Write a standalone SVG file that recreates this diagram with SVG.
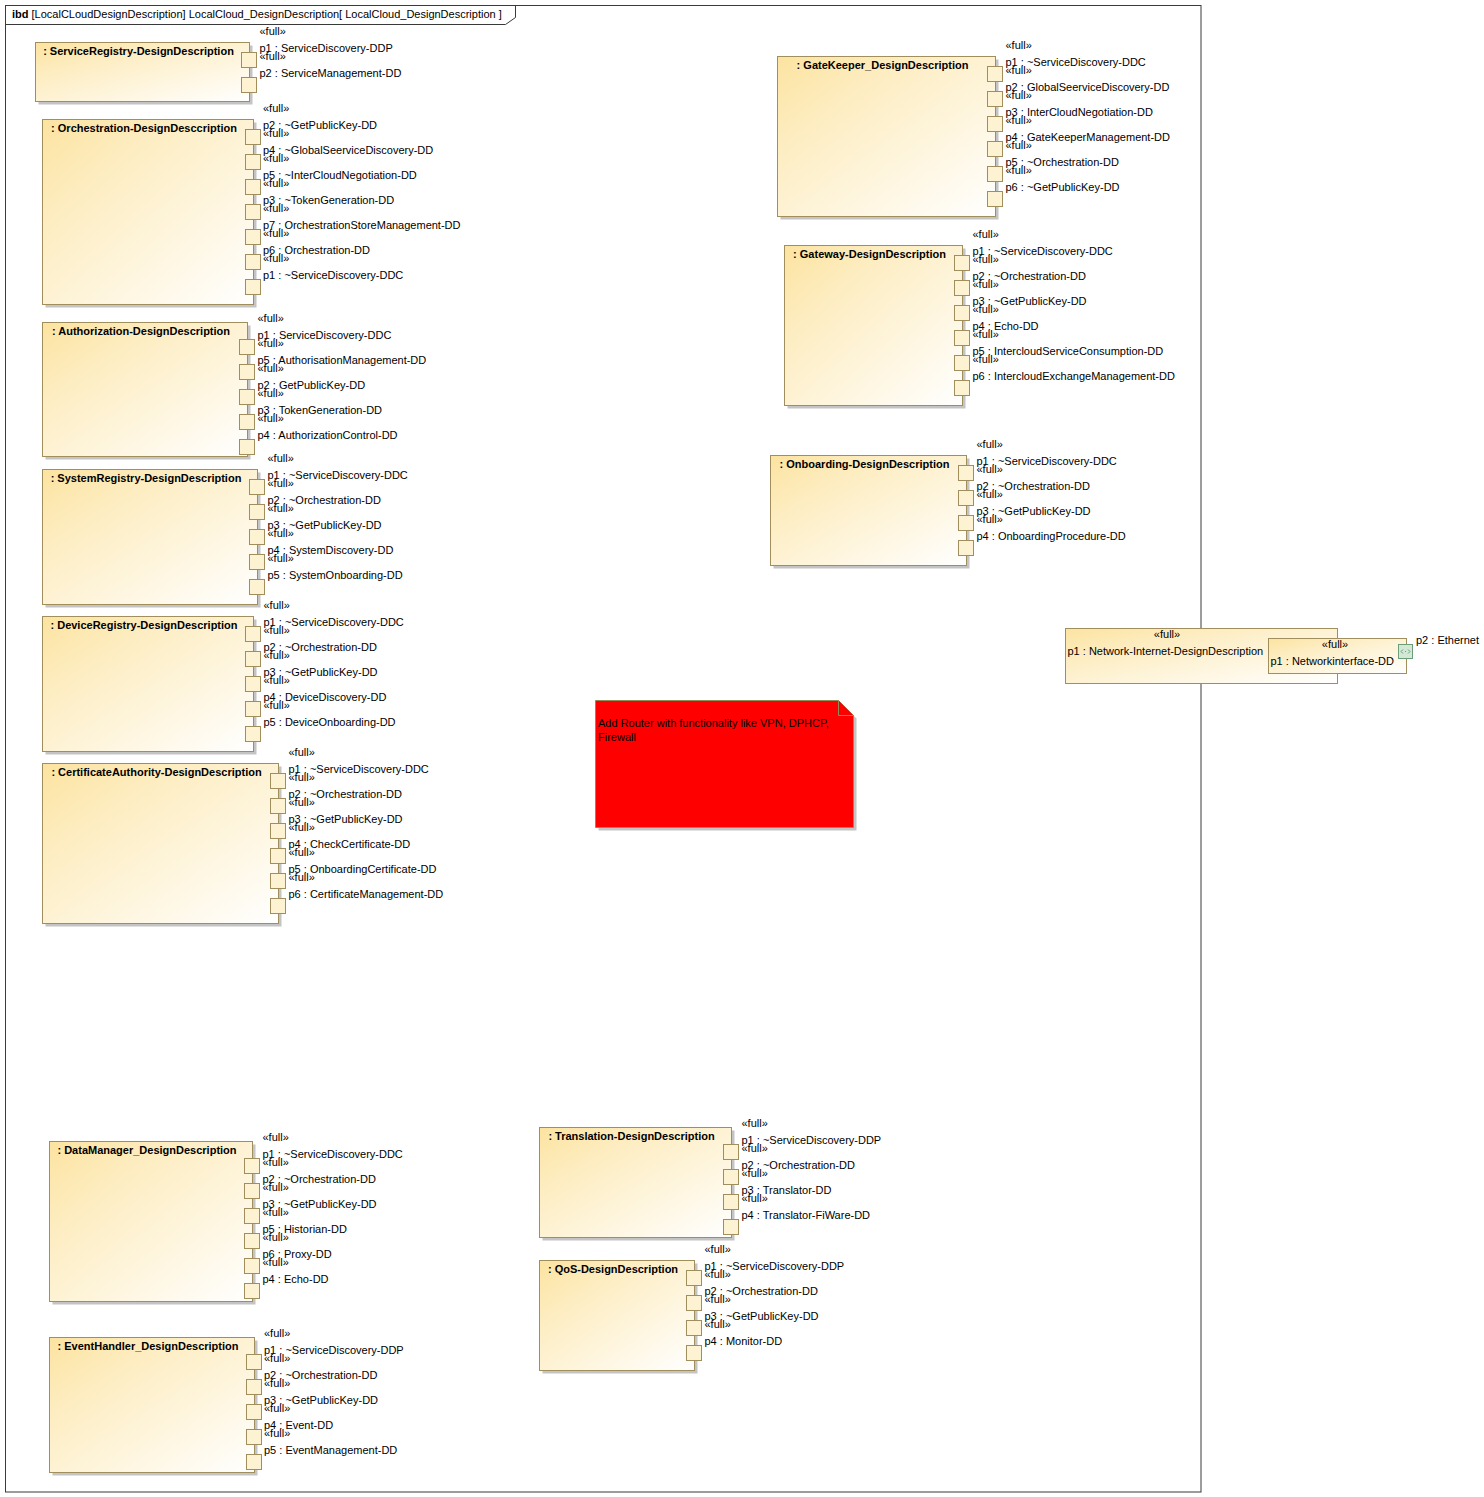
<svg xmlns="http://www.w3.org/2000/svg" width="1484" height="1497" viewBox="0 0 1484 1497">
  <defs>
    <linearGradient id="partFill" x1="0" y1="0" x2="1" y2="1">
      <stop offset="0" stop-color="#FCE3A0"/>
      <stop offset="0.3" stop-color="#FDEDC2"/>
      <stop offset="1" stop-color="#FFFFFF"/>
    </linearGradient>
    <style>
      .frame { fill: none; stroke: #3A3A3A; stroke-width: 1; }
      .shadow { fill: #C4C4C4; }
      .part { fill: url(#partFill); stroke: #A08E5C; stroke-width: 1; }
      .port { fill: #FDF3D2; stroke: #A08E5C; stroke-width: 1; }
      .gport { fill: #D3E8D6; stroke: #6B9E76; stroke-width: 1; }
      .note { fill: #FF0000; stroke: #8E8E5A; stroke-width: 1; }
      text { font-family: "Liberation Sans", Arial, Helvetica, sans-serif; font-size: 11px; fill: #000; }
      .title { font-weight: bold; text-anchor: middle; }
      .hdr { font-weight: bold; }
      .mid { text-anchor: middle; }
    </style>
  </defs>

  <!-- diagram frame -->
  <g id="frame">
    <rect class="frame" x="5.5" y="5.5" width="1195.5" height="1486.5"/>
    <path class="frame" d="M5.5,24.5 H505.5 L515.5,17.5 V5.5"/>
    <text x="12" y="18"><tspan class="hdr">ibd</tspan> [LocalCLoudDesignDescription] LocalCloud_DesignDescription[ LocalCloud_DesignDescription ]</text>
  </g>

  <!-- connectors: none drawn in this diagram -->
  <g id="connectors"/>

  <!-- ServiceRegistry -->
  <g id="serviceRegistry">
    <rect class="shadow" x="38.5" y="45.5" width="214" height="59"/>
    <rect class="part" x="35.5" y="42.5" width="214" height="59"/>
    <text class="title" x="138.5" y="54.5">: ServiceRegistry-DesignDescription</text>
    <rect class="port" x="241.5" y="52.5" width="15" height="15"/>
    <rect class="port" x="241.5" y="77.5" width="15" height="15"/>
    <text x="259.5" y="34.5">«full»</text>
    <text x="259.5" y="51.5">p1 : ServiceDiscovery-DDP</text>
    <text x="259.5" y="59.5">«full»</text>
    <text x="259.5" y="76.5">p2 : ServiceManagement-DD</text>
  </g>

  <!-- Orchestration -->
  <g id="orchestration">
    <rect class="shadow" x="45.5" y="122.5" width="211" height="185"/>
    <rect class="part" x="42.5" y="119.5" width="211" height="185"/>
    <text class="title" x="144" y="131.5">: Orchestration-DesignDesccription</text>
    <rect class="port" x="245.5" y="129.5" width="15" height="15"/>
    <rect class="port" x="245.5" y="154.5" width="15" height="15"/>
    <rect class="port" x="245.5" y="179.5" width="15" height="15"/>
    <rect class="port" x="245.5" y="204.5" width="15" height="15"/>
    <rect class="port" x="245.5" y="229.5" width="15" height="15"/>
    <rect class="port" x="245.5" y="254.5" width="15" height="15"/>
    <rect class="port" x="245.5" y="279.5" width="15" height="15"/>
    <text x="263" y="111.5">«full»</text>
    <text x="263" y="128.5">p2 : ~GetPublicKey-DD</text>
    <text x="263" y="136.5">«full»</text>
    <text x="263" y="153.5">p4 : ~GlobalSeerviceDiscovery-DD</text>
    <text x="263" y="161.5">«full»</text>
    <text x="263" y="178.5">p5 : ~InterCloudNegotiation-DD</text>
    <text x="263" y="186.5">«full»</text>
    <text x="263" y="203.5">p3 : ~TokenGeneration-DD</text>
    <text x="263" y="211.5">«full»</text>
    <text x="263" y="228.5">p7 : OrchestrationStoreManagement-DD</text>
    <text x="263" y="236.5">«full»</text>
    <text x="263" y="253.5">p6 : Orchestration-DD</text>
    <text x="263" y="261.5">«full»</text>
    <text x="263" y="278.5">p1 : ~ServiceDiscovery-DDC</text>
  </g>

  <!-- Authorization -->
  <g id="authorization">
    <rect class="shadow" x="45.5" y="325.5" width="205" height="134"/>
    <rect class="part" x="42.5" y="322.5" width="205" height="134"/>
    <text class="title" x="141" y="334.5">: Authorization-DesignDescription</text>
    <rect class="port" x="239.5" y="339.5" width="15" height="15"/>
    <rect class="port" x="239.5" y="364.5" width="15" height="15"/>
    <rect class="port" x="239.5" y="389.5" width="15" height="15"/>
    <rect class="port" x="239.5" y="414.5" width="15" height="15"/>
    <rect class="port" x="239.5" y="439.5" width="15" height="15"/>
    <text x="257.5" y="321.5">«full»</text>
    <text x="257.5" y="338.5">p1 : ServiceDiscovery-DDC</text>
    <text x="257.5" y="346.5">«full»</text>
    <text x="257.5" y="363.5">p5 : AuthorisationManagement-DD</text>
    <text x="257.5" y="371.5">«full»</text>
    <text x="257.5" y="388.5">p2 : GetPublicKey-DD</text>
    <text x="257.5" y="396.5">«full»</text>
    <text x="257.5" y="413.5">p3 : TokenGeneration-DD</text>
    <text x="257.5" y="421.5">«full»</text>
    <text x="257.5" y="438.5">p4 : AuthorizationControl-DD</text>
  </g>

  <!-- SystemRegistry -->
  <g id="systemRegistry">
    <rect class="shadow" x="45.5" y="472.5" width="215" height="135"/>
    <rect class="part" x="42.5" y="469.5" width="215" height="135"/>
    <text class="title" x="146" y="481.5">: SystemRegistry-DesignDescription</text>
    <rect class="port" x="249.5" y="479.5" width="15" height="15"/>
    <rect class="port" x="249.5" y="504.5" width="15" height="15"/>
    <rect class="port" x="249.5" y="529.5" width="15" height="15"/>
    <rect class="port" x="249.5" y="554.5" width="15" height="15"/>
    <rect class="port" x="249.5" y="579.5" width="15" height="15"/>
    <text x="267.5" y="461.5">«full»</text>
    <text x="267.5" y="478.5">p1 : ~ServiceDiscovery-DDC</text>
    <text x="267.5" y="486.5">«full»</text>
    <text x="267.5" y="503.5">p2 : ~Orchestration-DD</text>
    <text x="267.5" y="511.5">«full»</text>
    <text x="267.5" y="528.5">p3 : ~GetPublicKey-DD</text>
    <text x="267.5" y="536.5">«full»</text>
    <text x="267.5" y="553.5">p4 : SystemDiscovery-DD</text>
    <text x="267.5" y="561.5">«full»</text>
    <text x="267.5" y="578.5">p5 : SystemOnboarding-DD</text>
  </g>

  <!-- DeviceRegistry -->
  <g id="deviceRegistry">
    <rect class="shadow" x="45.5" y="619.5" width="211" height="135"/>
    <rect class="part" x="42.5" y="616.5" width="211" height="135"/>
    <text class="title" x="144" y="628.5">: DeviceRegistry-DesignDescription</text>
    <rect class="port" x="245.5" y="626.5" width="15" height="15"/>
    <rect class="port" x="245.5" y="651.5" width="15" height="15"/>
    <rect class="port" x="245.5" y="676.5" width="15" height="15"/>
    <rect class="port" x="245.5" y="701.5" width="15" height="15"/>
    <rect class="port" x="245.5" y="726.5" width="15" height="15"/>
    <text x="263.5" y="608.5">«full»</text>
    <text x="263.5" y="625.5">p1 : ~ServiceDiscovery-DDC</text>
    <text x="263.5" y="633.5">«full»</text>
    <text x="263.5" y="650.5">p2 : ~Orchestration-DD</text>
    <text x="263.5" y="658.5">«full»</text>
    <text x="263.5" y="675.5">p3 : ~GetPublicKey-DD</text>
    <text x="263.5" y="683.5">«full»</text>
    <text x="263.5" y="700.5">p4 : DeviceDiscovery-DD</text>
    <text x="263.5" y="708.5">«full»</text>
    <text x="263.5" y="725.5">p5 : DeviceOnboarding-DD</text>
  </g>

  <!-- CertificateAuthority -->
  <g id="certificateAuthority">
    <rect class="shadow" x="45.5" y="766.5" width="236" height="160"/>
    <rect class="part" x="42.5" y="763.5" width="236" height="160"/>
    <text class="title" x="156.5" y="775.5">: CertificateAuthority-DesignDescription</text>
    <rect class="port" x="270.5" y="773.5" width="15" height="15"/>
    <rect class="port" x="270.5" y="798.5" width="15" height="15"/>
    <rect class="port" x="270.5" y="823.5" width="15" height="15"/>
    <rect class="port" x="270.5" y="848.5" width="15" height="15"/>
    <rect class="port" x="270.5" y="873.5" width="15" height="15"/>
    <rect class="port" x="270.5" y="898.5" width="15" height="15"/>
    <text x="288.5" y="755.5">«full»</text>
    <text x="288.5" y="772.5">p1 : ~ServiceDiscovery-DDC</text>
    <text x="288.5" y="780.5">«full»</text>
    <text x="288.5" y="797.5">p2 : ~Orchestration-DD</text>
    <text x="288.5" y="805.5">«full»</text>
    <text x="288.5" y="822.5">p3 : ~GetPublicKey-DD</text>
    <text x="288.5" y="830.5">«full»</text>
    <text x="288.5" y="847.5">p4 : CheckCertificate-DD</text>
    <text x="288.5" y="855.5">«full»</text>
    <text x="288.5" y="872.5">p5 : OnboardingCertificate-DD</text>
    <text x="288.5" y="880.5">«full»</text>
    <text x="288.5" y="897.5">p6 : CertificateManagement-DD</text>
  </g>

  <!-- DataManager -->
  <g id="dataManager">
    <rect class="shadow" x="52.5" y="1144.5" width="203" height="160"/>
    <rect class="part" x="49.5" y="1141.5" width="203" height="160"/>
    <text class="title" x="147" y="1153.5">: DataManager_DesignDescription</text>
    <rect class="port" x="244.5" y="1158.5" width="15" height="15"/>
    <rect class="port" x="244.5" y="1183.5" width="15" height="15"/>
    <rect class="port" x="244.5" y="1208.5" width="15" height="15"/>
    <rect class="port" x="244.5" y="1233.5" width="15" height="15"/>
    <rect class="port" x="244.5" y="1258.5" width="15" height="15"/>
    <rect class="port" x="244.5" y="1283.5" width="15" height="15"/>
    <text x="262.5" y="1140.5">«full»</text>
    <text x="262.5" y="1157.5">p1 : ~ServiceDiscovery-DDC</text>
    <text x="262.5" y="1165.5">«full»</text>
    <text x="262.5" y="1182.5">p2 : ~Orchestration-DD</text>
    <text x="262.5" y="1190.5">«full»</text>
    <text x="262.5" y="1207.5">p3 : ~GetPublicKey-DD</text>
    <text x="262.5" y="1215.5">«full»</text>
    <text x="262.5" y="1232.5">p5 : Historian-DD</text>
    <text x="262.5" y="1240.5">«full»</text>
    <text x="262.5" y="1257.5">p6 : Proxy-DD</text>
    <text x="262.5" y="1265.5">«full»</text>
    <text x="262.5" y="1282.5">p4 : Echo-DD</text>
  </g>

  <!-- EventHandler -->
  <g id="eventHandler">
    <rect class="shadow" x="52.5" y="1340.5" width="205" height="135"/>
    <rect class="part" x="49.5" y="1337.5" width="205" height="135"/>
    <text class="title" x="148" y="1349.5">: EventHandler_DesignDescription</text>
    <rect class="port" x="246.5" y="1354.5" width="15" height="15"/>
    <rect class="port" x="246.5" y="1379.5" width="15" height="15"/>
    <rect class="port" x="246.5" y="1404.5" width="15" height="15"/>
    <rect class="port" x="246.5" y="1429.5" width="15" height="15"/>
    <rect class="port" x="246.5" y="1454.5" width="15" height="15"/>
    <text x="264" y="1336.5">«full»</text>
    <text x="264" y="1353.5">p1 : ~ServiceDiscovery-DDP</text>
    <text x="264" y="1361.5">«full»</text>
    <text x="264" y="1378.5">p2 : ~Orchestration-DD</text>
    <text x="264" y="1386.5">«full»</text>
    <text x="264" y="1403.5">p3 : ~GetPublicKey-DD</text>
    <text x="264" y="1411.5">«full»</text>
    <text x="264" y="1428.5">p4 : Event-DD</text>
    <text x="264" y="1436.5">«full»</text>
    <text x="264" y="1453.5">p5 : EventManagement-DD</text>
  </g>

  <!-- GateKeeper -->
  <g id="gateKeeper">
    <rect class="shadow" x="780.5" y="59.5" width="218" height="160"/>
    <rect class="part" x="777.5" y="56.5" width="218" height="160"/>
    <text class="title" x="882.5" y="68.5">: GateKeeper_DesignDescription</text>
    <rect class="port" x="987.5" y="66.5" width="15" height="15"/>
    <rect class="port" x="987.5" y="91.5" width="15" height="15"/>
    <rect class="port" x="987.5" y="116.5" width="15" height="15"/>
    <rect class="port" x="987.5" y="141.5" width="15" height="15"/>
    <rect class="port" x="987.5" y="166.5" width="15" height="15"/>
    <rect class="port" x="987.5" y="191.5" width="15" height="15"/>
    <text x="1005.5" y="48.5">«full»</text>
    <text x="1005.5" y="65.5">p1 : ~ServiceDiscovery-DDC</text>
    <text x="1005.5" y="73.5">«full»</text>
    <text x="1005.5" y="90.5">p2 : GlobalSeerviceDiscovery-DD</text>
    <text x="1005.5" y="98.5">«full»</text>
    <text x="1005.5" y="115.5">p3 : InterCloudNegotiation-DD</text>
    <text x="1005.5" y="123.5">«full»</text>
    <text x="1005.5" y="140.5">p4 : GateKeeperManagement-DD</text>
    <text x="1005.5" y="148.5">«full»</text>
    <text x="1005.5" y="165.5">p5 : ~Orchestration-DD</text>
    <text x="1005.5" y="173.5">«full»</text>
    <text x="1005.5" y="190.5">p6 : ~GetPublicKey-DD</text>
  </g>

  <!-- Gateway -->
  <g id="gateway">
    <rect class="shadow" x="787.5" y="248.5" width="178" height="160"/>
    <rect class="part" x="784.5" y="245.5" width="178" height="160"/>
    <text class="title" x="869.5" y="257.5">: Gateway-DesignDescription</text>
    <rect class="port" x="954.5" y="255.5" width="15" height="15"/>
    <rect class="port" x="954.5" y="280.5" width="15" height="15"/>
    <rect class="port" x="954.5" y="305.5" width="15" height="15"/>
    <rect class="port" x="954.5" y="330.5" width="15" height="15"/>
    <rect class="port" x="954.5" y="355.5" width="15" height="15"/>
    <rect class="port" x="954.5" y="380.5" width="15" height="15"/>
    <text x="972.5" y="237.5">«full»</text>
    <text x="972.5" y="254.5">p1 : ~ServiceDiscovery-DDC</text>
    <text x="972.5" y="262.5">«full»</text>
    <text x="972.5" y="279.5">p2 : ~Orchestration-DD</text>
    <text x="972.5" y="287.5">«full»</text>
    <text x="972.5" y="304.5">p3 : ~GetPublicKey-DD</text>
    <text x="972.5" y="312.5">«full»</text>
    <text x="972.5" y="329.5">p4 : Echo-DD</text>
    <text x="972.5" y="337.5">«full»</text>
    <text x="972.5" y="354.5">p5 : IntercloudServiceConsumption-DD</text>
    <text x="972.5" y="362.5">«full»</text>
    <text x="972.5" y="379.5">p6 : IntercloudExchangeManagement-DD</text>
  </g>

  <!-- Onboarding -->
  <g id="onboarding">
    <rect class="shadow" x="773.5" y="458.5" width="196" height="110"/>
    <rect class="part" x="770.5" y="455.5" width="196" height="110"/>
    <text class="title" x="864.5" y="467.5">: Onboarding-DesignDescription</text>
    <rect class="port" x="958.5" y="465.5" width="15" height="15"/>
    <rect class="port" x="958.5" y="490.5" width="15" height="15"/>
    <rect class="port" x="958.5" y="515.5" width="15" height="15"/>
    <rect class="port" x="958.5" y="540.5" width="15" height="15"/>
    <text x="976.5" y="447.5">«full»</text>
    <text x="976.5" y="464.5">p1 : ~ServiceDiscovery-DDC</text>
    <text x="976.5" y="472.5">«full»</text>
    <text x="976.5" y="489.5">p2 : ~Orchestration-DD</text>
    <text x="976.5" y="497.5">«full»</text>
    <text x="976.5" y="514.5">p3 : ~GetPublicKey-DD</text>
    <text x="976.5" y="522.5">«full»</text>
    <text x="976.5" y="539.5">p4 : OnboardingProcedure-DD</text>
  </g>

  <!-- Translation -->
  <g id="translation">
    <rect class="shadow" x="542.5" y="1130.5" width="192" height="110"/>
    <rect class="part" x="539.5" y="1127.5" width="192" height="110"/>
    <text class="title" x="631.5" y="1139.5">: Translation-DesignDescription</text>
    <rect class="port" x="723.5" y="1144.5" width="15" height="15"/>
    <rect class="port" x="723.5" y="1169.5" width="15" height="15"/>
    <rect class="port" x="723.5" y="1194.5" width="15" height="15"/>
    <rect class="port" x="723.5" y="1219.5" width="15" height="15"/>
    <text x="741.5" y="1126.5">«full»</text>
    <text x="741.5" y="1143.5">p1 : ~ServiceDiscovery-DDP</text>
    <text x="741.5" y="1151.5">«full»</text>
    <text x="741.5" y="1168.5">p2 : ~Orchestration-DD</text>
    <text x="741.5" y="1176.5">«full»</text>
    <text x="741.5" y="1193.5">p3 : Translator-DD</text>
    <text x="741.5" y="1201.5">«full»</text>
    <text x="741.5" y="1218.5">p4 : Translator-FiWare-DD</text>
  </g>

  <!-- QoS -->
  <g id="qos">
    <rect class="shadow" x="542.5" y="1263.5" width="155" height="110"/>
    <rect class="part" x="539.5" y="1260.5" width="155" height="110"/>
    <text class="title" x="613" y="1272.5">: QoS-DesignDescription</text>
    <rect class="port" x="686.5" y="1270.5" width="15" height="15"/>
    <rect class="port" x="686.5" y="1295.5" width="15" height="15"/>
    <rect class="port" x="686.5" y="1320.5" width="15" height="15"/>
    <rect class="port" x="686.5" y="1345.5" width="15" height="15"/>
    <text x="704.5" y="1252.5">«full»</text>
    <text x="704.5" y="1269.5">p1 : ~ServiceDiscovery-DDP</text>
    <text x="704.5" y="1277.5">«full»</text>
    <text x="704.5" y="1294.5">p2 : ~Orchestration-DD</text>
    <text x="704.5" y="1302.5">«full»</text>
    <text x="704.5" y="1319.5">p3 : ~GetPublicKey-DD</text>
    <text x="704.5" y="1327.5">«full»</text>
    <text x="704.5" y="1344.5">p4 : Monitor-DD</text>
  </g>

  <!-- Network part on the frame boundary -->
  <g id="network">
    <rect class="part" x="1065.5" y="628.5" width="272" height="55"/>
    <text class="mid" x="1167" y="637.5">«full»</text>
    <text x="1067.5" y="655">p1 : Network-Internet-DesignDescription</text>
    <g id="networkInterface">
      <rect class="part" x="1268.5" y="638.5" width="138" height="35"/>
      <text class="mid" x="1335" y="647.5">«full»</text>
      <text x="1270.5" y="665">p1 : Networkinterface-DD</text>
      <rect class="gport" x="1398.5" y="644.5" width="14" height="14"/>
      <path d="M1403,649.5 L1401,651.5 L1403,653.5 M1408,649.5 L1410,651.5 L1408,653.5" fill="none" stroke="#6B9E76" stroke-width="1"/>
      <rect x="1405" y="651" width="1" height="1" fill="#6B9E76"/>
      <text x="1416" y="643.5">p2 : Ethernet</text>
    </g>
  </g>

  <!-- Comment note -->
  <g id="routerNote">
    <path class="shadow" d="M598.5,703.5 H841.5 L856.5,718.5 V830.5 H598.5 Z"/>
    <path class="note" d="M595.5,700.5 H838.5 L853.5,715.5 V827.5 H595.5 Z"/>
    <path class="note" d="M838.5,700.5 V715.5 H853.5"/>
    <text x="598" y="727">Add Router with functionality like VPN, DPHCP,</text>
    <text x="598" y="741">Firewall</text>
  </g>
</svg>
